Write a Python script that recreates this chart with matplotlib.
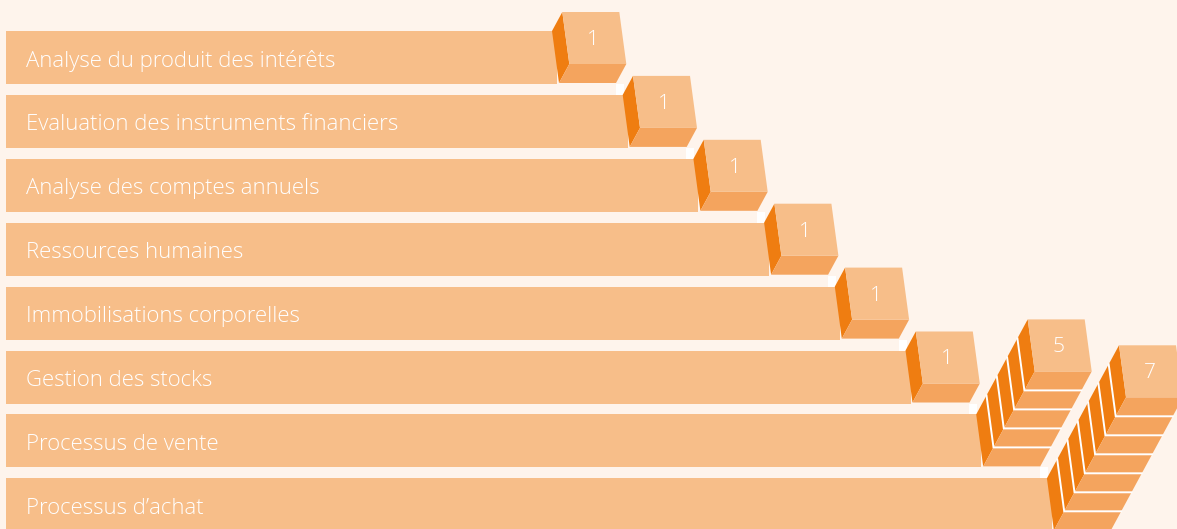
import matplotlib.pyplot as plt
from matplotlib.patches import Polygon, Rectangle

categories = [
    "Analyse du produit des intérêts",
    "Evaluation des instruments financiers",
    "Analyse des comptes annuels",
    "Ressources humaines",
    "Immobilisations corporelles",
    "Gestion des stocks",
    "Processus de vente",
    "Processus d\u2019achat",
]
counts = [1, 1, 1, 1, 1, 1, 5, 7]

bg = "#FEF4EC"
light = "#F7BE89"
mid = "#F4A45E"
dark = "#EF7D11"

# layout (pixel-like units)
row_top0, row_step, bar_h = 31, 63.9, 53
end0, end_step = 557, 70.7
dx, dy = -10.3, 19.0  # depth step of one cube

fig = plt.figure(figsize=(11.77, 5.29), dpi=100)
fig.patch.set_facecolor(bg)
ax = fig.add_axes([0, 0, 1, 1])
ax.set_facecolor(bg)
ax.set_xlim(0, 1177)
ax.set_ylim(529, 0)
ax.axis("off")

tops = [row_top0 + row_step * i for i in range(len(categories))]
ends = [end0 + end_step * i for i in range(len(categories))]

ax.barh([t + bar_h / 2 for t in tops], [e - 6 for e in ends], left=6,
        height=bar_h, color=light, zorder=1)

for i, (cat, n) in enumerate(zip(categories, counts)):
    t, e = tops[i], ends[i]
    ax.text(26, t + bar_h / 2 + 3.5, cat, color="white", fontsize=15.9,
            family="Open Sans", fontweight="light", va="center", zorder=5)

    # front face of the top cube
    x0, y0 = e - 5 - n * dx, t - n * dy
    tl = (x0, y0)
    tr = (x0 + 57, y0)
    br = (x0 + 64, y0 + 52)
    bl = (x0 + 7, y0 + 52)
    shift = lambda p, k: (p[0] + k * dx, p[1] + k * dy)

    ax.add_patch(Polygon([tl, bl, shift(bl, n), shift(tl, n)], closed=True,
                         facecolor=dark, edgecolor="none", zorder=3))
    ax.add_patch(Polygon([bl, br, shift(br, n), shift(bl, n)], closed=True,
                         facecolor=mid, edgecolor="none", zorder=3))
    ax.add_patch(Polygon([tl, tr, br, bl], closed=True,
                         facecolor=light, edgecolor="none", zorder=3))
    for k in range(1, n):
        a, b, c = shift(tl, k), shift(bl, k), shift(br, k)
        ax.plot([a[0], b[0], c[0]], [a[1], b[1], c[1]], color="white",
                lw=1.4, zorder=4, solid_joinstyle="miter")

    # small white notch where the gap meets the stack
    if i > 0:
        ax.add_patch(Rectangle((e - 12, t - 10.9), 8, 10.9, facecolor="white",
                               edgecolor="none", zorder=2))

    ax.text(x0 + 31, y0 + 28, str(n), color="white", fontsize=15,
            family="Open Sans", fontweight="light", ha="center", va="center",
            zorder=5)

fig.savefig("out.png", dpi=100, facecolor=bg)
